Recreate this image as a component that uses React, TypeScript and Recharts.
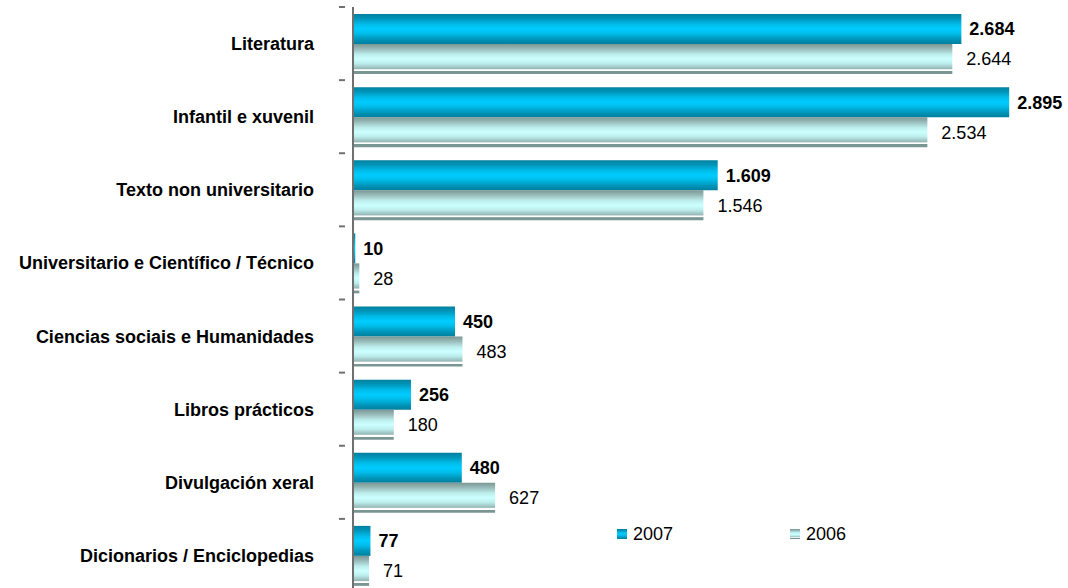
import React from 'react';
import { BarChart, Bar, XAxis, YAxis, LabelList } from 'recharts';

const categories = [
  'Literatura',
  'Infantil e xuvenil',
  'Texto non universitario',
  'Universitario e Científico / Técnico',
  'Ciencias sociais e Humanidades',
  'Libros prácticos',
  'Divulgación xeral',
  'Dicionarios / Enciclopedias',
];
const values2007 = [2684, 2895, 1609, 10, 450, 256, 480, 77];
const values2006 = [2644, 2534, 1546, 28, 483, 180, 627, 71];
const seriesNames = ['2007', '2006'];

const data = categories.map((name, i) => ({ name, v2007: values2007[i], v2006: values2006[i] }));

const FONT = '"Liberation Sans", Arial, sans-serif';
const fmt = (v: number) => String(v).replace(/\B(?=(\d{3})+(?!\d))/g, '.');

const Grad2007 = ({ id }: { id: string }) => (
  <linearGradient id={id} x1="0" y1="0" x2="0" y2="1">
    <stop offset="0" stopColor="#00809E" />
    <stop offset="0.15" stopColor="#0094B8" />
    <stop offset="0.35" stopColor="#00BDEA" />
    <stop offset="0.5" stopColor="#00CCFF" />
    <stop offset="0.65" stopColor="#00BDEA" />
    <stop offset="0.85" stopColor="#0094B8" />
    <stop offset="1" stopColor="#00809E" />
  </linearGradient>
);
const Grad2006 = ({ id }: { id: string }) => (
  <linearGradient id={id} x1="0" y1="0" x2="0" y2="1">
    <stop offset="0" stopColor="#7A9694" />
    <stop offset="0.15" stopColor="#96B8B6" />
    <stop offset="0.35" stopColor="#BDEEEE" />
    <stop offset="0.5" stopColor="#CCFFFF" />
    <stop offset="0.65" stopColor="#BDEEEE" />
    <stop offset="0.82" stopColor="#96B8B6" />
    <stop offset="0.86" stopColor="#FFFFFF" />
    <stop offset="0.9" stopColor="#FFFFFF" />
    <stop offset="0.91" stopColor="#7A9694" />
    <stop offset="1" stopColor="#7A9694" />
  </linearGradient>
);

const CategoryTick = (props: any) => {
  const { x, y, payload, index, visibleTicksCount } = props;
  const half = payload && payload.offset ? payload.offset : 36.56;
  const isLast = index === (visibleTicksCount ? visibleTicksCount - 1 : categories.length - 1);
  return (
    <g>
      <line x1={x - 6} x2={x} y1={y - half} y2={y - half} stroke="#707070" strokeWidth={2} />
      {isLast && <line x1={x - 6} x2={x} y1={y + half} y2={y + half} stroke="#707070" strokeWidth={2} />}
      <text x={x - 31} y={y} dy="0.36em" textAnchor="end" fontFamily={FONT} fontSize={18} fontWeight="bold" fill="#000">
        {payload.value}
      </text>
    </g>
  );
};

const Legend2 = () => (
  <div style={{ position: 'absolute', left: 617, top: 523, display: 'flex', fontFamily: FONT, fontSize: 18, color: '#000' }}>
    {seriesNames.map((s, i) => (
      <div key={s} style={{ display: 'flex', alignItems: 'center', width: 173, height: 22 }}>
        <svg width={10} height={10} style={{ marginRight: 6 }}>
          <defs>
            {i === 0 ? <Grad2007 id="lg2007" /> : <Grad2006 id="lg2006" />}
          </defs>
          <rect x={0} y={0} width={10} height={10} fill={i === 0 ? 'url(#lg2007)' : 'url(#lg2006)'} />
        </svg>
        <span>{s}</span>
      </div>
    ))}
  </div>
);

export default function App() {
  return (
    <div style={{ position: 'absolute', left: 0, top: 0, width: 1068, height: 588, overflow: 'hidden', background: '#fff' }}>
      <BarChart
        width={1068}
        height={592}
        data={data}
        layout="vertical"
        margin={{ top: 7, right: 35, bottom: 0, left: 0 }}
        barGap={0}
        barSize={30}
      >
        <defs>
          <Grad2007 id="g2007" />
          <Grad2006 id="g2006" />
        </defs>
        <XAxis type="number" domain={[0, 3000]} hide />
        <YAxis
          type="category"
          dataKey="name"
          width={353}
          axisLine={{ stroke: '#707070', strokeWidth: 2 }}
          tickLine={false}
          tick={<CategoryTick />}
          interval={0}
        />
        <Bar dataKey="v2007" name={seriesNames[0]} fill="url(#g2007)" isAnimationActive={false}>
          <LabelList
            dataKey="v2007"
            position="right"
            offset={8}
            formatter={(v: any) => fmt(v)}
            style={{ fontFamily: FONT, fontSize: 18, fontWeight: 'bold', fill: '#000' }}
          />
        </Bar>
        <Bar dataKey="v2006" name={seriesNames[1]} fill="url(#g2006)" isAnimationActive={false}>
          <LabelList
            dataKey="v2006"
            position="right"
            offset={14}
            formatter={(v: any) => fmt(v)}
            style={{ fontFamily: FONT, fontSize: 18, fill: '#000' }}
          />
        </Bar>
      </BarChart>
      <Legend2 />
    </div>
  );
}
